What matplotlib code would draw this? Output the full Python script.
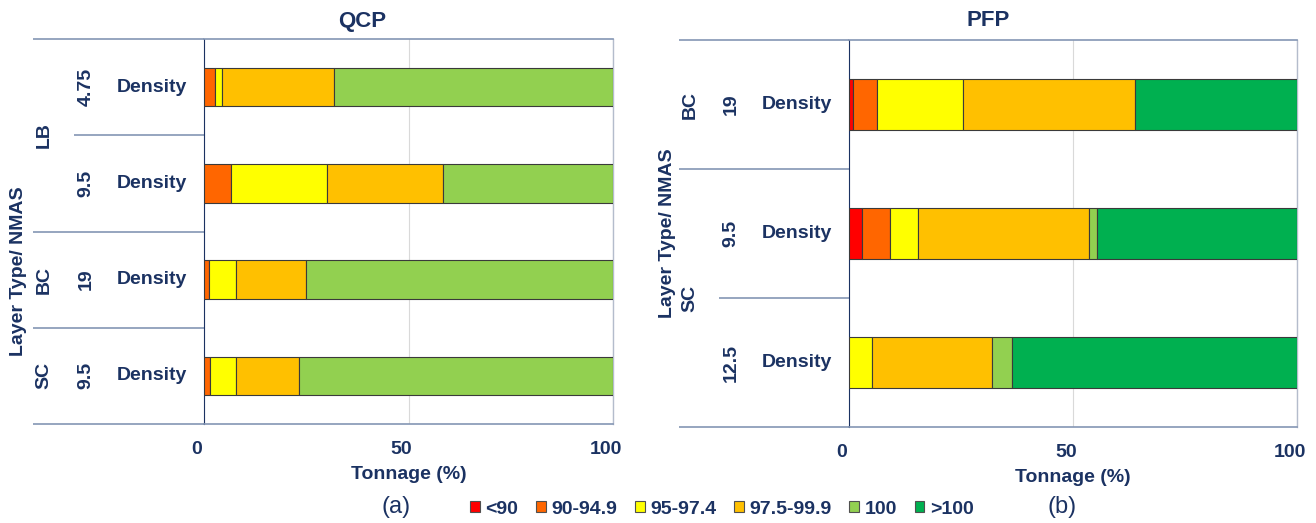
import matplotlib
matplotlib.use("Agg")
import matplotlib.pyplot as plt
import matplotlib.transforms as mtransforms
import numpy as np

plt.rcParams['font.family'] = ['Liberation Sans', 'DejaVu Sans']

# ---------------- data ----------------
series_names = ['<90', '90-94.9', '95-97.4', '97.5-99.9', '100', '>100']
series_colors = ['#FF0000', '#FF6600', '#FFFF00', '#FFC000', '#92D050', '#00B050']

# QCP (a): rows top to bottom
qcp_layer = ['LB', 'LB', 'BC', 'SC']
qcp_nmas = ['4.75', '9.5', '19', '9.5']
qcp_test = ['Density', 'Density', 'Density', 'Density']
qcp_lt90 = [0, 0, 0, 0]
qcp_90_949 = [2.7, 6.7, 1.2, 1.5]
qcp_95_974 = [1.6, 23.3, 6.7, 6.4]
qcp_975_999 = [27.4, 28.4, 17.1, 15.3]
qcp_100 = [68.3, 41.6, 75.0, 76.8]
qcp_gt100 = [0, 0, 0, 0]

# PFP (b)
pfp_layer = ['BC', 'SC', 'SC']
pfp_nmas = ['19', '9.5', '12.5']
pfp_test = ['Density', 'Density', 'Density']
pfp_lt90 = [0.85, 2.9, 0]
pfp_90_949 = [5.4, 6.2, 0]
pfp_95_974 = [19.2, 6.4, 5.2]
pfp_975_999 = [38.4, 38.1, 26.7]
pfp_100 = [0, 1.7, 4.5]
pfp_gt100 = [36.15, 44.7, 63.6]

x_ticks = [0, 50, 100]

NAVY = '#1B3262'
SEP = '#8496B4'
W, H = 1316, 523

fig = plt.figure(figsize=(W / 100, H / 100), dpi=100)


def fx(px):
    return px / W


def fy(py):
    return 1 - py / H


def make_panel(rect_px, series, nmas, tests, title, title_x, sub, sub_x,
               layer_labels, sep_lines, col_x, ylabel_y):
    l, t, r, b = rect_px
    ax = fig.add_axes([fx(l), fy(b), fx(r) - fx(l), fy(t) - fy(b)])
    n = len(nmas)
    y = np.arange(n)
    left = np.zeros(n)
    for name, vals, col in zip(series_names, series, series_colors):
        vals = np.array(vals, dtype=float)
        lw = [0.8 if v > 0 else 0 for v in vals]
        ax.barh(y, vals, left=left, height=0.4, color=col, edgecolor='#3A3A3A',
                linewidth=lw, label=name, zorder=3)
        left += vals
    ax.set_xlim(0, 100)
    ax.set_ylim(n - 0.5, -0.5)
    ax.set_xticks(x_ticks)
    ax.set_yticks([])
    ax.tick_params(axis='x', length=0, pad=12, labelsize=14, labelcolor=NAVY)
    for lab in ax.get_xticklabels():
        lab.set_fontweight('bold')
    off = mtransforms.ScaledTranslation(-7 / 100, 0, fig.dpi_scale_trans)
    for tk in ax.xaxis.get_major_ticks():
        tk.label1.set_transform(tk.label1.get_transform() + off)
    ax.grid(axis='x', color='#D9D9D9', linewidth=0.8, zorder=0)
    ax.spines['left'].set_color(NAVY)
    ax.spines['left'].set_linewidth(0.8)
    ax.spines['right'].set_color('#B4BCCC')
    ax.spines['right'].set_linewidth(1.0)
    for s in ('top', 'bottom'):
        ax.spines[s].set_color(SEP)
        ax.spines[s].set_linewidth(1.2)
    ax.set_xlabel('Tonnage (%)', fontsize=14, fontweight='bold', color=NAVY, labelpad=6)

    tr = mtransforms.blended_transform_factory(fig.transFigure, ax.transData)
    # separator lines in label area
    for yy, x0 in sep_lines:
        ax.plot([fx(x0), fx(l)], [yy, yy], transform=tr, color=SEP, lw=1.2,
                clip_on=False, solid_capstyle='butt')
    xl, xn, xd = col_x
    for i in range(n):
        ax.text(fx(xd), i, tests[i], transform=tr, ha='right', va='center',
                fontsize=14, fontweight='bold', color=NAVY)
        ax.text(fx(xn), i, nmas[i], transform=tr, ha='center', va='center',
                rotation=90, fontsize=14, fontweight='bold', color=NAVY)
    for lab, yy in layer_labels:
        ax.text(fx(xl), yy, lab, transform=tr, ha='center', va='center',
                rotation=90, fontsize=14, fontweight='bold', color=NAVY)
    fig.text(fx(ylabel_y[0]), fy(ylabel_y[1]), 'Layer Type/ NMAS', rotation=90,
             ha='center', va='center', fontsize=14, fontweight='bold', color=NAVY)
    fig.text(fx(title_x), fy(21), title, ha='center', va='center', fontsize=16,
             fontweight='bold', color=NAVY)
    fig.text(fx(sub_x), fy(507), sub, ha='center', va='center', fontsize=17,
             color=NAVY)
    return ax


ax1 = make_panel((204, 39, 613, 424),
                 [qcp_lt90, qcp_90_949, qcp_95_974, qcp_975_999, qcp_100, qcp_gt100],
                 qcp_nmas, qcp_test, 'QCP', 362, '(a)', 396,
                 [('LB', 0.5), ('BC', 2), ('SC', 3)],
                 [(-0.5, 33), (0.5, 74), (1.5, 33), (2.5, 33), (3.5, 33)],
                 (44, 86, 187), (19, 271))

ax2 = make_panel((849, 40, 1297, 427),
                 [pfp_lt90, pfp_90_949, pfp_95_974, pfp_975_999, pfp_100, pfp_gt100],
                 pfp_nmas, pfp_test, 'PFP', 988, '(b)', 1062,
                 [('BC', 0), ('SC', 1.5)],
                 [(-0.5, 679), (0.5, 679), (1.5, 719), (2.5, 679)],
                 (690, 731, 832), (667, 233))

handles, labels = ax2.get_legend_handles_labels()
leg = fig.legend(handles, labels, loc='center', bbox_to_anchor=(fx(722), fy(509)),
                 ncol=6, frameon=False, handlelength=0.5, handleheight=0.5,
                 handletextpad=0.3, columnspacing=0.9, borderpad=0,
                 prop={'size': 14, 'weight': 'bold'})
for txt in leg.get_texts():
    txt.set_color(NAVY)
for h in leg.legend_handles:
    h.set_linewidth(0.8)
    h.set_edgecolor('#505050')

fig.savefig('out.png', dpi=100)
